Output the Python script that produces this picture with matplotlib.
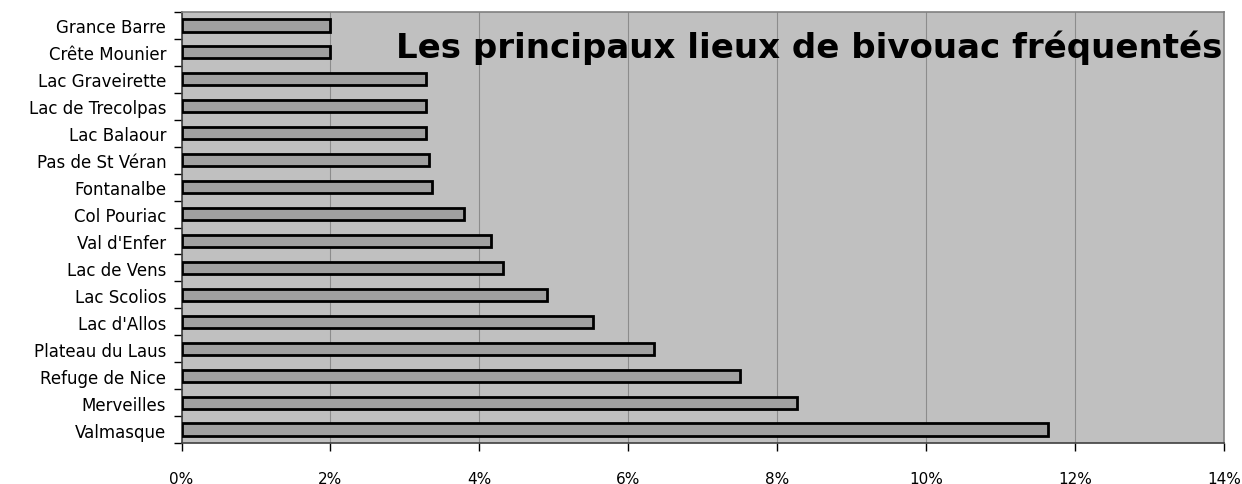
import matplotlib
matplotlib.use("Agg")
import matplotlib.pyplot as plt
from matplotlib.ticker import FuncFormatter, MultipleLocator
import numpy as np

categories = ["Valmasque", "Merveilles", "Refuge de Nice", "Plateau du Laus",
              "Lac d'Allos", "Lac Scolios", "Lac de Vens", "Val d'Enfer",
              "Col Pouriac", "Fontanalbe", "Pas de St Véran", "Lac Balaour",
              "Lac de Trecolpas", "Lac Graveirette", "Crête Mounier", "Grance Barre"]
values = [11.63, 8.26, 7.50, 6.34, 5.52, 4.91, 4.32, 4.15,
          3.79, 3.36, 3.32, 3.28, 3.28, 3.28, 2.00, 1.99]
title = "Les principaux lieux de bivouac fréquentés"

fig = plt.figure(figsize=(12.42, 4.85), dpi=100)
ax = fig.add_axes([181.5/1242, 1-444/485, (1224-181.5)/1242, (444-13)/485])
ax.set_facecolor("#C0C0C0")

y = np.arange(len(categories))
ax.barh(y, [v/100 for v in values], height=0.45, color="#A0A0A0",
        edgecolor="black", linewidth=2, zorder=3)

ax.set_xlim(0, 0.14)
ax.set_ylim(-0.5, len(categories)-0.5)
ax.xaxis.set_major_locator(MultipleLocator(0.02))
ax.xaxis.set_major_formatter(FuncFormatter(lambda v, p: f"{v*100:.0f}%"))
ax.grid(axis="x", color="#8C8C8C", linewidth=0.8, zorder=1)

ax.set_yticks(y)
ax.set_yticklabels(categories, fontsize=12)
ax.set_yticks(np.arange(-0.5, len(categories)), minor=True)
ax.tick_params(axis="y", which="major", length=0, pad=11)
ax.tick_params(axis="y", which="minor", length=6, width=1, color="black", direction="out")
ax.tick_params(axis="x", length=6, width=1, color="black", direction="out", pad=14, labelsize=11)

for s in ["top", "right"]:
    ax.spines[s].set_color("#808080")
    ax.spines[s].set_linewidth(1.2)
for s in ["left", "bottom"]:
    ax.spines[s].set_color("#404040")
    ax.spines[s].set_linewidth(1.2)

ax.text(0.998, 0.92, title, transform=ax.transAxes, ha="right", va="center",
        fontsize=24.5, fontweight="bold", color="black", zorder=5)

fig.savefig("out.png", dpi=100, facecolor="white")
